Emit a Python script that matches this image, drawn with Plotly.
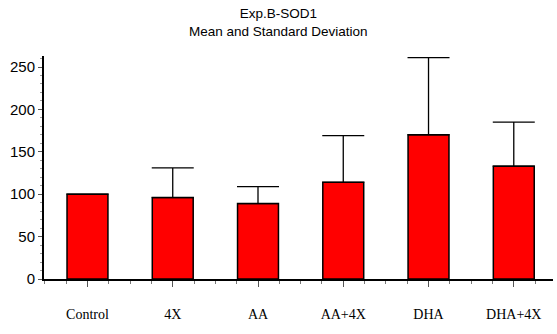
import plotly.graph_objects as go

categories = ["Control", "4X", "AA", "AA+4X", "DHA", "DHA+4X"]
means = [100, 96, 89, 114, 170, 133]
sds = [0, 35, 20, 55, 91, 52]
y_ticks = [0, 50, 100, 150, 200, 250]

xs = list(range(len(categories)))

fig = go.Figure()
fig.add_trace(go.Bar(
    x=xs, y=means, width=0.48,
    marker=dict(color="#ff0000", line=dict(color="black", width=1.5)),
    error_y=dict(type="data", array=sds, symmetric=False, arrayminus=[0]*len(sds),
                 visible=True, color="black", thickness=1.3, width=21),
))

fig.update_layout(
    width=557, height=334,
    margin=dict(l=44, r=4, t=56, b=55),
    paper_bgcolor="white", plot_bgcolor="white",
    showlegend=False,
    font=dict(family="Liberation Sans, Arial", color="black"),
    annotations=[dict(
        text="Exp.B-SOD1<br>Mean and Standard Deviation",
        xref="paper", yref="paper", x=(278 - 44) / 509, y=1 + 52 / 223,
        xanchor="center", yanchor="top", showarrow=False,
        font=dict(family="Liberation Sans, Arial", size=13.5, color="black"),
    )],
)
fig.update_xaxes(
    range=[-0.51, 5.46], tickvals=xs, ticktext=categories,
    tickfont=dict(family="Liberation Serif, Times New Roman", size=14, color="black"),
    showline=True, linecolor="black", linewidth=2,
    ticks="outside", ticklen=6, tickcolor="#555", tickwidth=1,
    ticklabelstandoff=15,
    minor=dict(dtick=0.25, tick0=0, ticks="outside", ticklen=3, tickcolor="#777"),
    showgrid=False, zeroline=False,
)
fig.update_yaxes(
    range=[0, 263], tickvals=y_ticks,
    tickfont=dict(family="Liberation Sans, Arial", size=15, color="black"),
    showline=True, linecolor="black", linewidth=2,
    ticks="outside", ticklen=4, tickcolor="#555", tickwidth=1,
    minor=dict(dtick=10, ticks="outside", ticklen=2, tickcolor="#999"),
    showgrid=False, zeroline=False,
)

fig.write_html("out.html")
